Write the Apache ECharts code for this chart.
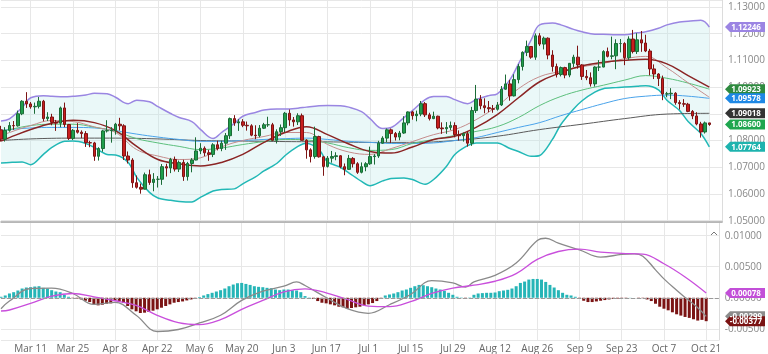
<!DOCTYPE html>
<html>
<head>
<meta charset="utf-8">
<script src="https://cdn.jsdelivr.net/npm/echarts@6/dist/echarts.min.js"></script>
<style>
html, body { margin: 0; padding: 0; background: #fff; }
#chart { width: 768px; height: 354px; }
</style>
</head>
<body>
<div id="chart"></div>
<script>
// daily candles: date, open, high, low, close
var candles = [
['2024-02-29',1.0840,1.0855,1.0796,1.0805],['2024-03-01',1.0805,1.0850,1.0796,1.0838],
['2024-03-04',1.0838,1.0869,1.0833,1.0856],['2024-03-05',1.0856,1.0873,1.0840,1.0855],
['2024-03-06',1.0855,1.0912,1.0852,1.0900],['2024-03-07',1.0900,1.0951,1.0895,1.0947],
['2024-03-08',1.0947,1.0981,1.0922,1.0937],['2024-03-11',1.0937,1.0944,1.0919,1.0926],
['2024-03-12',1.0926,1.0942,1.0900,1.0928],['2024-03-13',1.0928,1.0963,1.0920,1.0947],
['2024-03-14',1.0947,1.0952,1.0872,1.0882],['2024-03-15',1.0882,1.0906,1.0873,1.0888],
['2024-03-18',1.0888,1.0900,1.0857,1.0868],['2024-03-19',1.0868,1.0877,1.0836,1.0865],
['2024-03-20',1.0865,1.0927,1.0850,1.0922],['2024-03-21',1.0922,1.0942,1.0850,1.0860],
['2024-03-22',1.0860,1.0862,1.0802,1.0808],['2024-03-25',1.0808,1.0843,1.0802,1.0838],
['2024-03-26',1.0838,1.0865,1.0826,1.0831],['2024-03-27',1.0831,1.0838,1.0809,1.0826],
['2024-03-28',1.0826,1.0835,1.0776,1.0792],['2024-03-29',1.0792,1.0799,1.0775,1.0791],
['2024-04-01',1.0791,1.0795,1.0724,1.0741],['2024-04-02',1.0741,1.0775,1.0725,1.0770],
['2024-04-03',1.0770,1.0840,1.0758,1.0836],['2024-04-04',1.0836,1.0876,1.0830,1.0837],
['2024-04-05',1.0837,1.0850,1.0792,1.0838],['2024-04-08',1.0838,1.0866,1.0822,1.0861],
['2024-04-09',1.0861,1.0885,1.0837,1.0855],['2024-04-10',1.0855,1.0861,1.0727,1.0742],
['2024-04-11',1.0742,1.0759,1.0714,1.0727],['2024-04-12',1.0727,1.0734,1.0623,1.0642],
['2024-04-15',1.0642,1.0669,1.0620,1.0625],['2024-04-16',1.0625,1.0639,1.0601,1.0618],
['2024-04-17',1.0618,1.0680,1.0617,1.0672],['2024-04-18',1.0672,1.0691,1.0634,1.0643],
['2024-04-19',1.0643,1.0678,1.0610,1.0655],['2024-04-22',1.0655,1.0667,1.0624,1.0655],
['2024-04-23',1.0655,1.0712,1.0634,1.0702],['2024-04-24',1.0702,1.0713,1.0665,1.0697],
['2024-04-25',1.0697,1.0735,1.0678,1.0729],['2024-04-26',1.0729,1.0740,1.0684,1.0693],
['2024-04-29',1.0693,1.0725,1.0682,1.0718],['2024-04-30',1.0718,1.0728,1.0649,1.0665],
['2024-05-01',1.0665,1.0720,1.0650,1.0714],['2024-05-02',1.0714,1.0734,1.0681,1.0727],
['2024-05-03',1.0727,1.0812,1.0726,1.0761],['2024-05-06',1.0761,1.0790,1.0749,1.0771],
['2024-05-07',1.0771,1.0778,1.0742,1.0754],['2024-05-08',1.0754,1.0765,1.0724,1.0748],
['2024-05-09',1.0748,1.0790,1.0738,1.0784],['2024-05-10',1.0784,1.0799,1.0763,1.0770],
['2024-05-13',1.0770,1.0800,1.0760,1.0790],['2024-05-14',1.0790,1.0828,1.0765,1.0818],
['2024-05-15',1.0818,1.0886,1.0806,1.0882],['2024-05-16',1.0882,1.0895,1.0855,1.0866],
['2024-05-17',1.0866,1.0880,1.0836,1.0870],['2024-05-20',1.0870,1.0880,1.0850,1.0857],
['2024-05-21',1.0857,1.0871,1.0837,1.0855],['2024-05-22',1.0855,1.0861,1.0816,1.0820],
['2024-05-23',1.0820,1.0857,1.0805,1.0818],['2024-05-24',1.0818,1.0858,1.0812,1.0846],
['2024-05-27',1.0846,1.0866,1.0843,1.0859],['2024-05-28',1.0859,1.0889,1.0851,1.0859],
['2024-05-29',1.0859,1.0866,1.0800,1.0801],['2024-05-30',1.0801,1.0842,1.0789,1.0833],
['2024-05-31',1.0833,1.0860,1.0817,1.0848],['2024-06-03',1.0848,1.0907,1.0831,1.0902],
['2024-06-04',1.0902,1.0916,1.0855,1.0877],['2024-06-05',1.0877,1.0888,1.0852,1.0870],
['2024-06-06',1.0870,1.0902,1.0858,1.0893],['2024-06-07',1.0893,1.0901,1.0800,1.0801],
['2024-06-10',1.0801,1.0805,1.0732,1.0765],['2024-06-11',1.0765,1.0771,1.0718,1.0740],
['2024-06-12',1.0740,1.0852,1.0732,1.0815],['2024-06-13',1.0815,1.0818,1.0736,1.0739],
['2024-06-14',1.0739,1.0742,1.0668,1.0703],['2024-06-17',1.0703,1.0742,1.0699,1.0734],
['2024-06-18',1.0734,1.0761,1.0717,1.0740],['2024-06-19',1.0740,1.0756,1.0726,1.0743],
['2024-06-20',1.0743,1.0745,1.0696,1.0702],['2024-06-21',1.0702,1.0714,1.0670,1.0692],
['2024-06-24',1.0692,1.0746,1.0690,1.0733],['2024-06-25',1.0733,1.0738,1.0699,1.0713],
['2024-06-26',1.0713,1.0719,1.0675,1.0681],['2024-06-27',1.0681,1.0718,1.0677,1.0702],
['2024-06-28',1.0702,1.0719,1.0685,1.0713],['2024-07-01',1.0713,1.0777,1.0709,1.0740],
['2024-07-02',1.0740,1.0749,1.0710,1.0742],['2024-07-03',1.0742,1.0799,1.0735,1.0790],
['2024-07-04',1.0790,1.0816,1.0788,1.0809],['2024-07-05',1.0809,1.0845,1.0793,1.0840],
['2024-07-08',1.0840,1.0845,1.0791,1.0826],['2024-07-09',1.0826,1.0832,1.0800,1.0813],
['2024-07-10',1.0813,1.0836,1.0801,1.0828],['2024-07-11',1.0828,1.0891,1.0825,1.0866],
['2024-07-12',1.0866,1.0909,1.0857,1.0907],['2024-07-15',1.0907,1.0911,1.0878,1.0893],
['2024-07-16',1.0893,1.0912,1.0872,1.0899],['2024-07-17',1.0899,1.0948,1.0891,1.0938],
['2024-07-18',1.0938,1.0944,1.0888,1.0896],['2024-07-19',1.0896,1.0904,1.0875,1.0882],
['2024-07-22',1.0882,1.0908,1.0880,1.0891],['2024-07-23',1.0891,1.0893,1.0842,1.0847],
['2024-07-24',1.0847,1.0868,1.0825,1.0844],['2024-07-25',1.0844,1.0869,1.0825,1.0849],
['2024-07-26',1.0849,1.0871,1.0839,1.0856],['2024-07-29',1.0856,1.0868,1.0812,1.0822],
['2024-07-30',1.0822,1.0838,1.0800,1.0818],['2024-07-31',1.0818,1.0830,1.0796,1.0825],
['2024-08-01',1.0825,1.0834,1.0777,1.0790],['2024-08-02',1.0790,1.0926,1.0780,1.0912],
['2024-08-05',1.0912,1.1008,1.0903,1.0955],['2024-08-06',1.0955,1.0970,1.0917,1.0930],
['2024-08-07',1.0930,1.0958,1.0902,1.0923],['2024-08-08',1.0923,1.0948,1.0906,1.0919],
['2024-08-09',1.0919,1.0933,1.0904,1.0917],['2024-08-12',1.0917,1.0944,1.0912,1.0933],
['2024-08-13',1.0933,1.1004,1.0929,1.0992],['2024-08-14',1.0992,1.1047,1.0990,1.1012],
['2024-08-15',1.1012,1.1027,1.0949,1.0967],['2024-08-16',1.0967,1.1048,1.0965,1.1028],
['2024-08-19',1.1028,1.1087,1.1014,1.1077],['2024-08-20',1.1077,1.1134,1.1062,1.1130],
['2024-08-21',1.1130,1.1174,1.1116,1.1152],['2024-08-22',1.1152,1.1153,1.1106,1.1112],
['2024-08-23',1.1112,1.1201,1.1102,1.1192],['2024-08-26',1.1192,1.1202,1.1154,1.1161],
['2024-08-27',1.1161,1.1189,1.1141,1.1183],['2024-08-28',1.1183,1.1186,1.1104,1.1120],
['2024-08-29',1.1120,1.1138,1.1058,1.1077],['2024-08-30',1.1077,1.1088,1.1036,1.1047],
['2024-09-02',1.1047,1.1077,1.1040,1.1073],['2024-09-03',1.1073,1.1076,1.1033,1.1045],
['2024-09-04',1.1045,1.1090,1.1037,1.1089],['2024-09-05',1.1089,1.1121,1.1075,1.1112],
['2024-09-06',1.1112,1.1155,1.1069,1.1083],['2024-09-09',1.1083,1.1086,1.1027,1.1040],
['2024-09-10',1.1040,1.1064,1.1026,1.1035],['2024-09-11',1.1035,1.1055,1.1002,1.1012],
['2024-09-12',1.1012,1.1078,1.1002,1.1075],['2024-09-13',1.1075,1.1101,1.1060,1.1075],
['2024-09-16',1.1075,1.1138,1.1074,1.1133],['2024-09-17',1.1133,1.1148,1.1111,1.1115],
['2024-09-18',1.1115,1.1189,1.1104,1.1117],['2024-09-19',1.1117,1.1179,1.1067,1.1163],
['2024-09-20',1.1163,1.1180,1.1130,1.1163],['2024-09-23',1.1163,1.1168,1.1082,1.1110],
['2024-09-24',1.1110,1.1190,1.1102,1.1180],['2024-09-25',1.1180,1.1214,1.1126,1.1133],
['2024-09-26',1.1133,1.1202,1.1124,1.1177],['2024-09-27',1.1177,1.1210,1.1132,1.1165],
['2024-09-30',1.1165,1.1196,1.1131,1.1135],['2024-10-01',1.1135,1.1143,1.1044,1.1068],
['2024-10-02',1.1068,1.1085,1.1030,1.1049],['2024-10-03',1.1049,1.1052,1.1004,1.1032],
['2024-10-04',1.1032,1.1043,1.0951,1.0974],['2024-10-07',1.0974,1.0982,1.0962,1.0975],
['2024-10-08',1.0975,1.0996,1.0955,1.0977],['2024-10-09',1.0977,1.0981,1.0934,1.0942],
['2024-10-10',1.0942,1.0951,1.0916,1.0938],['2024-10-11',1.0938,1.0955,1.0926,1.0936],
['2024-10-14',1.0936,1.0941,1.0906,1.0909],['2024-10-15',1.0909,1.0914,1.0880,1.0892],
['2024-10-16',1.0892,1.0906,1.0857,1.0862],['2024-10-17',1.0862,1.0870,1.0811,1.0832],
['2024-10-18',1.0832,1.0871,1.0826,1.0866],['2024-10-21',1.0866,1.0866,1.0855,1.0860]
];
// empty slots after the last session
var padDays = ['2024-10-22', '2024-10-23', '2024-10-24'];

// bollinger bands, read on mondays and thursdays
var bandDays = ['2024-02-29','2024-03-04','2024-03-07','2024-03-11','2024-03-14','2024-03-18','2024-03-21',
  '2024-03-25','2024-03-28','2024-04-01','2024-04-04','2024-04-08','2024-04-11','2024-04-15','2024-04-18',
  '2024-04-22','2024-04-25','2024-04-29','2024-05-02','2024-05-06','2024-05-09','2024-05-13','2024-05-16',
  '2024-05-20','2024-05-23','2024-05-27','2024-05-30','2024-06-03','2024-06-06','2024-06-10','2024-06-13',
  '2024-06-17','2024-06-20','2024-06-24','2024-06-27','2024-07-01','2024-07-04','2024-07-08','2024-07-11',
  '2024-07-15','2024-07-18','2024-07-22','2024-07-25','2024-07-29','2024-08-01','2024-08-05','2024-08-08',
  '2024-08-12','2024-08-15','2024-08-19','2024-08-22','2024-08-26','2024-08-29','2024-09-02','2024-09-05',
  '2024-09-09','2024-09-12','2024-09-16','2024-09-19','2024-09-23','2024-09-26','2024-09-30','2024-10-03',
  '2024-10-07','2024-10-10','2024-10-14','2024-10-17','2024-10-21'];
var bbUpper = [1.0873,1.0881,1.0924,1.0960,1.0968,1.0966,1.0964,1.0966,1.0970,1.0977,1.0975,1.0962,1.0938,
  1.0951,1.0945,1.0927,1.0901,1.0886,1.0871,1.0842,1.0808,1.0830,1.0864,1.0891,1.0905,1.0914,1.0918,1.0918,
  1.0921,1.0925,1.0930,1.0931,1.0930,1.0925,1.0908,1.0882,1.0845,1.0849,1.0886,1.0912,1.0953,1.0965,1.0965,
  1.0953,1.0938,1.0953,1.0968,1.0975,1.1028,1.1087,1.1177,1.1233,1.1240,1.1233,1.1216,1.1207,1.1198,1.1198,
  1.1196,1.1196,1.1203,1.1207,1.1220,1.1233,1.1244,1.1246,1.1250,1.12246];
var bbLower = [1.0716,1.0718,1.0720,1.0709,1.0748,1.0774,1.0797,1.0798,1.0789,1.0774,1.0748,1.0746,1.0718,
  1.0662,1.0606,1.0585,1.0576,1.0572,1.0570,1.0587,1.0611,1.0617,1.0619,1.0638,1.0664,1.0686,1.0714,1.0744,
  1.0778,1.0790,1.0765,1.0720,1.0700,1.0679,1.0647,1.0631,1.0649,1.0658,1.0660,1.0654,1.0636,1.0654,1.0703,
  1.0748,1.0781,1.0791,1.0791,1.0791,1.0770,1.0759,1.0741,1.0744,1.0804,1.0860,1.0918,1.0949,1.0981,1.0994,
  1.0998,1.1000,1.1003,1.1005,1.0990,1.0951,1.0912,1.0871,1.0826,1.07764];

// moving averages, read weekly
var maDays = ['2024-02-29','2024-03-04','2024-03-11','2024-03-18','2024-03-25','2024-04-01','2024-04-08',
  '2024-04-15','2024-04-22','2024-04-29','2024-05-06','2024-05-13','2024-05-20','2024-05-27','2024-06-03',
  '2024-06-10','2024-06-17','2024-06-24','2024-07-01','2024-07-08','2024-07-15','2024-07-22','2024-07-29',
  '2024-08-05','2024-08-12','2024-08-19','2024-08-26','2024-09-02','2024-09-09','2024-09-16','2024-09-23',
  '2024-09-30','2024-10-07','2024-10-14','2024-10-21'];
var maMid = [1.0798,1.0811,1.0841,1.0865,1.0876,1.0867,1.0837,1.0778,1.0729,1.0713,1.0705,1.0718,1.0748,
  1.0793,1.0830,1.0852,1.0822,1.0787,1.0759,1.0753,1.0776,1.0804,1.0816,1.0849,1.0897,1.0960,1.1020,1.1054,
  1.1080,1.1093,1.1100,1.1104,1.1087,1.1043,1.1000];
var maFast = [1.0817,1.0830,1.0856,1.0875,1.0871,1.0851,1.0830,1.0766,1.0742,1.0729,1.0735,1.0776,1.0800,
  1.0815,1.0830,1.0830,1.0785,1.0757,1.0748,1.0770,1.0796,1.0822,1.0841,1.0878,1.0929,1.0994,1.1039,1.1059,
  1.1076,1.1089,1.1106,1.1115,1.1072,1.1016,1.0962];
var ma50 = [1.0835,1.0841,1.0856,1.0861,1.0861,1.0850,1.0834,1.0807,1.0791,1.0778,1.0766,1.0772,1.0785,
  1.0796,1.0804,1.0802,1.0791,1.0773,1.0763,1.0766,1.0789,1.0804,1.0819,1.0834,1.0852,1.0886,1.0931,1.0965,
  1.0989,1.1007,1.1026,1.1043,1.1033,1.1015,1.09923];
var ma100 = [1.0838,1.0841,1.0847,1.0849,1.0849,1.0847,1.0837,1.0824,1.0813,1.0804,1.0797,1.0797,1.0800,
  1.0804,1.0807,1.0809,1.0804,1.0797,1.0793,1.0789,1.0789,1.0791,1.0800,1.0811,1.0830,1.0849,1.0867,1.0893,
  1.0916,1.0938,1.0957,1.0966,1.0970,1.0966,1.09578];
var ma200Days = ['2024-02-29','2024-03-11','2024-03-25','2024-04-08','2024-04-22','2024-05-06','2024-05-20',
  '2024-06-03','2024-06-17','2024-07-01','2024-07-15','2024-07-29','2024-08-12','2024-08-26','2024-09-09',
  '2024-09-23','2024-10-07','2024-10-21'];
var ma200 = [1.0800,1.0806,1.0809,1.0809,1.0806,1.0800,1.0798,1.0796,1.0795,1.0793,1.0793,1.0800,1.0816,
  1.0841,1.0861,1.0882,1.0899,1.09018];

// MACD pane
var macdDays = ['2024-02-29','2024-03-04','2024-03-11','2024-03-18','2024-03-25','2024-04-01','2024-04-08',
  '2024-04-15','2024-04-22','2024-04-29','2024-05-06','2024-05-13','2024-05-20','2024-05-27','2024-06-03',
  '2024-06-06','2024-06-10','2024-06-17','2024-06-24','2024-07-01','2024-07-08','2024-07-15','2024-07-22',
  '2024-07-29','2024-08-01','2024-08-05','2024-08-12','2024-08-19','2024-08-26','2024-08-28','2024-09-02',
  '2024-09-09','2024-09-16','2024-09-23','2024-09-26','2024-09-30','2024-10-03','2024-10-07','2024-10-10',
  '2024-10-14','2024-10-17','2024-10-21'];
var macdLine = [-0.00176,-0.00053,0.00149,0.00154,0.00069,-0.00106,-0.00075,-0.00282,-0.00543,-0.00511,
  -0.00405,-0.00282,-0.00043,0.00106,0.00186,0.00256,0.00197,0.00005,-0.00176,-0.00250,-0.00112,0.00053,
  0.00277,0.00240,0.00170,0.00256,0.00362,0.00560,0.00921,0.00958,0.00879,0.00772,0.00655,0.00698,0.00708,
  0.00670,0.00450,0.00304,0.00120,0.00005,-0.00160,-0.00299];
var signalDays = maDays;
var signalLine = [-0.00213,-0.00197,-0.00091,0.00027,0.00069,0.00016,-0.00048,-0.00122,-0.00282,-0.00399,
  -0.00431,-0.00351,-0.00186,-0.00043,0.00096,0.00144,0.00080,-0.00027,-0.00133,-0.00144,-0.00064,0.00069,
  0.00154,0.00202,0.00266,0.00389,0.00618,0.00745,0.00783,0.00735,0.00714,0.00703,0.00548,0.00335,0.00078];
var histogram = [0.00016,0.00037,0.00069,0.0009,0.00117,0.00149,0.00165,0.0017,0.00181,0.00186,
  0.0016,0.00149,0.00122,0.00101,0.0009,0.00048,0.00016,-0.00005,-0.00011,-0.00027,
  -0.00048,-0.00069,-0.00106,-0.00122,-0.00112,-0.00096,-0.0009,-0.00048,-0.00053,-0.0008,
  -0.00133,-0.00186,-0.00218,-0.00245,-0.0024,-0.00229,-0.00208,-0.00186,-0.0016,-0.00133,
  -0.00106,-0.0008,-0.00069,-0.00059,-0.00043,-0.00027,-0.00011,0.00011,0.00037,0.00059,
  0.0008,0.00101,0.00122,0.00149,0.00186,0.00213,0.00234,0.00239,0.00223,0.00207,
  0.00186,0.00176,0.0017,0.0016,0.00154,0.00133,0.00122,0.00133,0.00133,0.00122,
  0.00117,0.0009,0.00027,0.00005,-0.00016,-0.00053,-0.0008,-0.0009,-0.00106,-0.00122,
  -0.00144,-0.00154,-0.00176,-0.00165,-0.00154,-0.00144,-0.00122,-0.00106,-0.00085,-0.00053,
  -0.00016,0.00037,0.00053,0.00069,0.0009,0.00117,0.00133,0.0016,0.00186,0.00207,
  0.00202,0.00186,0.0017,0.00149,0.00133,0.00112,0.0008,0.00048,0.00016,0.00005,
  -0.00016,0.00005,0.00048,0.00069,0.00075,0.0008,0.0008,0.00085,0.00106,0.00117,
  0.00128,0.00149,0.00186,0.00239,0.00261,0.00293,0.00303,0.00303,0.00293,0.00255,
  0.00207,0.00165,0.00122,0.0008,0.00048,0.00037,0.00016,-0.00011,-0.00048,-0.00069,
  -0.00069,-0.00059,-0.00048,-0.00037,-0.00027,-0.00016,-0.00011,-0.00005,-0.00005,0.00002,
  0,-0.00005,-0.00005,-0.00027,-0.00053,-0.00096,-0.00144,-0.00176,-0.00202,-0.00234,
  -0.00266,-0.00287,-0.00309,-0.00324,-0.00346,-0.00367,-0.00356,-0.00377];

// last-value tags on the right axis
var priceTags = [
  [1.12246, '#9b84e3'], [1.09923, '#2e8a3f'], [1.09578, '#1e88e5'],
  [1.09018, '#333333'], [1.08600, '#1fa64f'], [1.07764, '#1db3ae']
];
var macdTags = [[-0.00299, '#8c8c8c'], [0.00078, '#c24fd8'], [-0.00377, '#7a1212']];

var months = ['Jan','Feb','Mar','Apr','May','Jun','Jul','Aug','Sep','Oct','Nov','Dec'];
var days = candles.map(function (r) { return r[0]; }).concat(padDays);
var ohlc = candles.map(function (r) { return [r[1], r[4], r[3], r[2]]; });

function pairs(xs, ys) {
  return xs.map(function (d, i) { return [d, ys[i]]; });
}
function showAt(i) { return i >= 7 && (i - 7) % 10 === 0; }

var gridLine = { show: true, interval: showAt, lineStyle: { color: '#e7e7e7', width: 1 } };

function lineSeries(name, data, color, width, y) {
  return {
    name: name, type: 'line', data: data, xAxisIndex: y, yAxisIndex: y,
    symbol: 'none', smooth: 0.4, silent: true,
    lineStyle: { color: color, width: width }
  };
}

var chart = echarts.init(document.getElementById('chart'));
var option = {
  animation: false,
  textStyle: { fontFamily: 'Open Sans, Noto Sans, sans-serif' },
  grid: [
    { left: 1, right: 41, top: 0, height: 222 },
    { left: 1, right: 41, top: 222, height: 119 }
  ],
  xAxis: [
    {
      type: 'category', gridIndex: 0, data: days, boundaryGap: false,
      axisLine: { show: true, lineStyle: { color: '#a8a8a8', width: 1.5 } },
      axisTick: { show: false }, axisLabel: { show: false },
      splitLine: gridLine
    },
    {
      type: 'category', gridIndex: 1, data: days, boundaryGap: false,
      axisLine: { show: true, lineStyle: { color: '#dcdcdc' } },
      axisTick: { show: false },
      axisLabel: {
        interval: showAt, color: '#666', fontSize: 10, margin: 4,
        formatter: function (v) {
          var p = v.split('-');
          return months[+p[1] - 1] + ' ' + (+p[2]);
        }
      },
      splitLine: gridLine
    }
  ],
  yAxis: [
    {
      type: 'value', gridIndex: 0, position: 'right', min: 1.0495, max: 1.1326, splitNumber: 8,
      axisLine: { show: true, lineStyle: { color: '#dcdcdc' } },
      axisTick: { show: false },
      axisLabel: {
        color: '#888', fontSize: 10, margin: 6, showMinLabel: false, showMaxLabel: false,
        formatter: function (v) { return v.toFixed(5); }
      },
      splitLine: { lineStyle: { color: '#e7e7e7' } }
    },
    {
      type: 'value', gridIndex: 1, position: 'right', min: -0.0068, max: 0.0122, splitNumber: 4,
      axisLine: { show: true, lineStyle: { color: '#dcdcdc' } },
      axisTick: { show: false },
      axisLabel: {
        color: '#888', fontSize: 10, margin: 6, showMinLabel: false, showMaxLabel: false,
        formatter: function (v) { return v.toFixed(5); }
      },
      splitLine: { lineStyle: { color: '#e7e7e7' } }
    }
  ],
  series: [
    {
      name: 'BB lower', type: 'line', stack: 'bb', data: pairs(bandDays, bbLower),
      symbol: 'none', smooth: 0.3, silent: true,
      lineStyle: { color: '#22b8b6', width: 1.5 }
    },
    {
      name: 'BB fill', type: 'line', stack: 'bb',
      data: bandDays.map(function (d, i) { return [d, bbUpper[i] - bbLower[i]]; }),
      symbol: 'none', smooth: 0.3, silent: true,
      lineStyle: { width: 0, opacity: 0 },
      areaStyle: { color: 'rgba(185, 230, 230, 0.42)' }
    },
    lineSeries('BB upper', pairs(bandDays, bbUpper), '#9a86e2', 1.5, 0),
    lineSeries('MA 200', pairs(ma200Days, ma200), '#5a5a5a', 1, 0),
    lineSeries('MA 100', pairs(maDays, ma100), '#4aa3ea', 1, 0),
    lineSeries('MA 50', pairs(maDays, ma50), '#5cbf7c', 1, 0),
    lineSeries('MA fast', pairs(maDays, maFast), '#c48c8c', 1, 0),
    lineSeries('BB mid', pairs(maDays, maMid), '#8b2525', 1.5, 0),
    {
      name: 'EUR/USD', type: 'candlestick', data: ohlc, barWidth: 3, z: 5,
      itemStyle: {
        color: '#1f9e4c', color0: '#c81e1e',
        borderColor: '#1b6b37', borderColor0: '#7d1414', borderWidth: 1
      }
    },
    {
      name: 'Histogram', type: 'bar', xAxisIndex: 1, yAxisIndex: 1, data: histogram,
      barWidth: 3, silent: true,
      itemStyle: {
        color: function (p) { return p.value >= 0 ? '#26b5b7' : '#7b1414'; }
      },
      markLine: {
        silent: true, symbol: 'none', label: { show: false },
        lineStyle: { type: 'dashed', color: '#9a9a9a', width: 1 },
        data: [{ yAxis: 0 }]
      }
    },
    lineSeries('MACD', pairs(macdDays, macdLine), '#8a8a8a', 1.3, 1),
    lineSeries('Signal', pairs(signalDays, signalLine), '#c94fdc', 1.3, 1)
  ]
};
chart.setOption(option);

// value tags drawn at the axis, placed through the axis scale
function tagShapes(list, axis) {
  var out = [];
  list.forEach(function (t) {
    var y = chart.convertToPixel({ yAxisIndex: axis }, t[0]);
    out.push({
      type: 'polygon', z: 100,
      shape: { points: [[725, y], [730, y - 5], [765, y - 5], [765, y + 5], [730, y + 5]] },
      style: { fill: t[1] }
    });
    out.push({
      type: 'text', z: 101, x: 746, y: y + 0.5,
      style: {
        text: t[0].toFixed(5), fill: '#fff', font: 'bold 8px "Open Sans", sans-serif',
        align: 'center', verticalAlign: 'middle'
      }
    });
  });
  return out;
}
var shapes = tagShapes(priceTags, 0).concat(tagShapes(macdTags, 1));
shapes.push({
  type: 'polyline', z: 100,
  shape: { points: [[711, 235], [714, 232], [717, 235]] },
  style: { stroke: '#777', lineWidth: 1, fill: null }
});
chart.setOption({ graphic: shapes });
</script>
</body>
</html>
